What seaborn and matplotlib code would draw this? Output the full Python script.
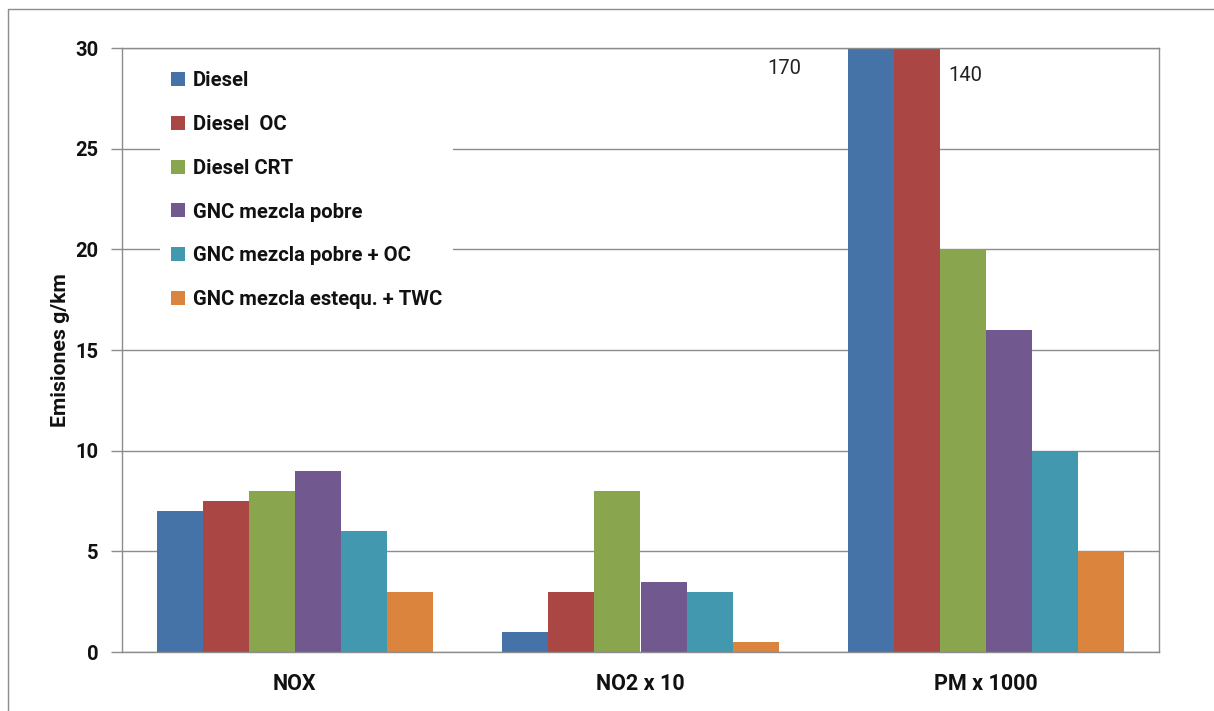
import matplotlib
matplotlib.use("Agg")
import matplotlib.pyplot as plt
from matplotlib.lines import Line2D
import seaborn as sns
import pandas as pd

# Emission categories (x axis) and technologies (series)
categories = ["NOX", "NO2 x 10", "PM x 1000"]
series = [
    "Diesel",
    "Diesel  OC",
    "Diesel CRT",
    "GNC mezcla pobre",
    "GNC mezcla pobre + OC",
    "GNC mezcla estequ. + TWC",
]
diesel = [7.0, 1.0, 170.0]
diesel_oc = [7.5, 3.0, 140.0]
diesel_crt = [8.0, 8.0, 20.0]
gnc_pobre = [9.0, 3.5, 16.0]
gnc_pobre_oc = [6.0, 3.0, 10.0]
gnc_esteq_twc = [3.0, 0.5, 5.0]
colors = ["#4572A7", "#AA4643", "#89A54E", "#71588F", "#4198AF", "#DB843D"]
y_ticks = [0, 5, 10, 15, 20, 25, 30]

values = [diesel, diesel_oc, diesel_crt, gnc_pobre, gnc_pobre_oc, gnc_esteq_twc]
rows = []
for name, vals in zip(series, values):
    for cat, v in zip(categories, vals):
        rows.append({"categoria": cat, "tecnologia": name, "valor": v})
df = pd.DataFrame(rows)

sns.set_theme(style="white")
plt.rcParams["font.family"] = ["Roboto", "DejaVu Sans"]

fig = plt.figure(figsize=(12.14, 7.11), dpi=100)
ax = fig.add_axes([122 / 1214, 59 / 711, 1037 / 1214, 604 / 711])

sns.barplot(
    data=df, x="categoria", y="valor", hue="tecnologia",
    order=categories, hue_order=series, palette=colors,
    saturation=1, width=0.8, linewidth=0, ax=ax, legend=False, zorder=2,
)

ymax = y_ticks[-1]
ax.set_ylim(0, ymax)
ax.set_xlim(-0.5, len(categories) - 0.5)
ax.set_yticks(y_ticks)
ax.set_yticklabels([str(t) for t in y_ticks], fontsize=14.5, fontweight="bold",
                   color="#111111")
ax.set_xticks(range(len(categories)))
ax.set_xticklabels(categories, fontsize=15.5, fontweight="bold", color="#111111")
ax.set_xticks([i - 0.5 for i in range(len(categories) + 1)], minor=True)
ax.tick_params(axis="x", which="major", length=0, pad=15)
ax.tick_params(axis="x", which="minor", length=8, color="#8C8C8C", width=1)
ax.tick_params(axis="y", which="major", length=8, color="#8C8C8C", width=1, pad=9, left=True)
ax.set_xlabel("")
ax.set_ylabel("Emisiones g/km", fontsize=15.3, fontweight="bold", labelpad=4,
              color="#111111")

ax.yaxis.grid(True, color="#8C8C8C", linewidth=1, zorder=0)
ax.set_axisbelow(True)
for side in ["left", "right", "bottom", "top"]:
    ax.spines[side].set_visible(True)
    ax.spines[side].set_color("#8C8C8C")
    ax.spines[side].set_linewidth(1)

# Values beyond the axis top are written next to their clipped bars
offsets = {"Diesel": (-0.25, -1.0), "Diesel  OC": (0.14, -1.35)}
n_cat = len(categories)
for si, name in enumerate(series):
    if name not in offsets:
        continue
    for ci in range(n_cat):
        patch = ax.patches[si * n_cat + ci]
        h = patch.get_height()
        if h > ymax:
            dx, dy = offsets[name]
            xc = patch.get_x() + patch.get_width() / 2
            ax.text(xc + dx, ymax + dy, f"{h:g}", ha="center", va="center",
                    fontsize=14.5, color="#222222")

handles = [Line2D([0], [0], marker="s", linestyle="none", markersize=10,
                  markerfacecolor=c, markeredgewidth=0) for c in colors]
leg = ax.legend(handles, series, loc="upper left", bbox_to_anchor=(0.027, 0.995),
                frameon=True, fancybox=False, framealpha=1, edgecolor="none",
                facecolor="white", labelspacing=1.22, handlelength=0.75,
                handletextpad=0.38, borderpad=0.5,
                prop={"size": 14.6, "weight": "bold"})
leg.set_zorder(5)
for t in leg.get_texts():
    t.set_color("#111111")

# Outer chart frame
fig.add_artist(Line2D([8 / 1214, 8 / 1214], [0, 1 - 9 / 711], transform=fig.transFigure,
                      color="#8C8C8C", linewidth=1))
fig.add_artist(Line2D([8 / 1214, 1], [1 - 9 / 711, 1 - 9 / 711], transform=fig.transFigure,
                      color="#8C8C8C", linewidth=1))

fig.savefig("out.png", dpi=100)
